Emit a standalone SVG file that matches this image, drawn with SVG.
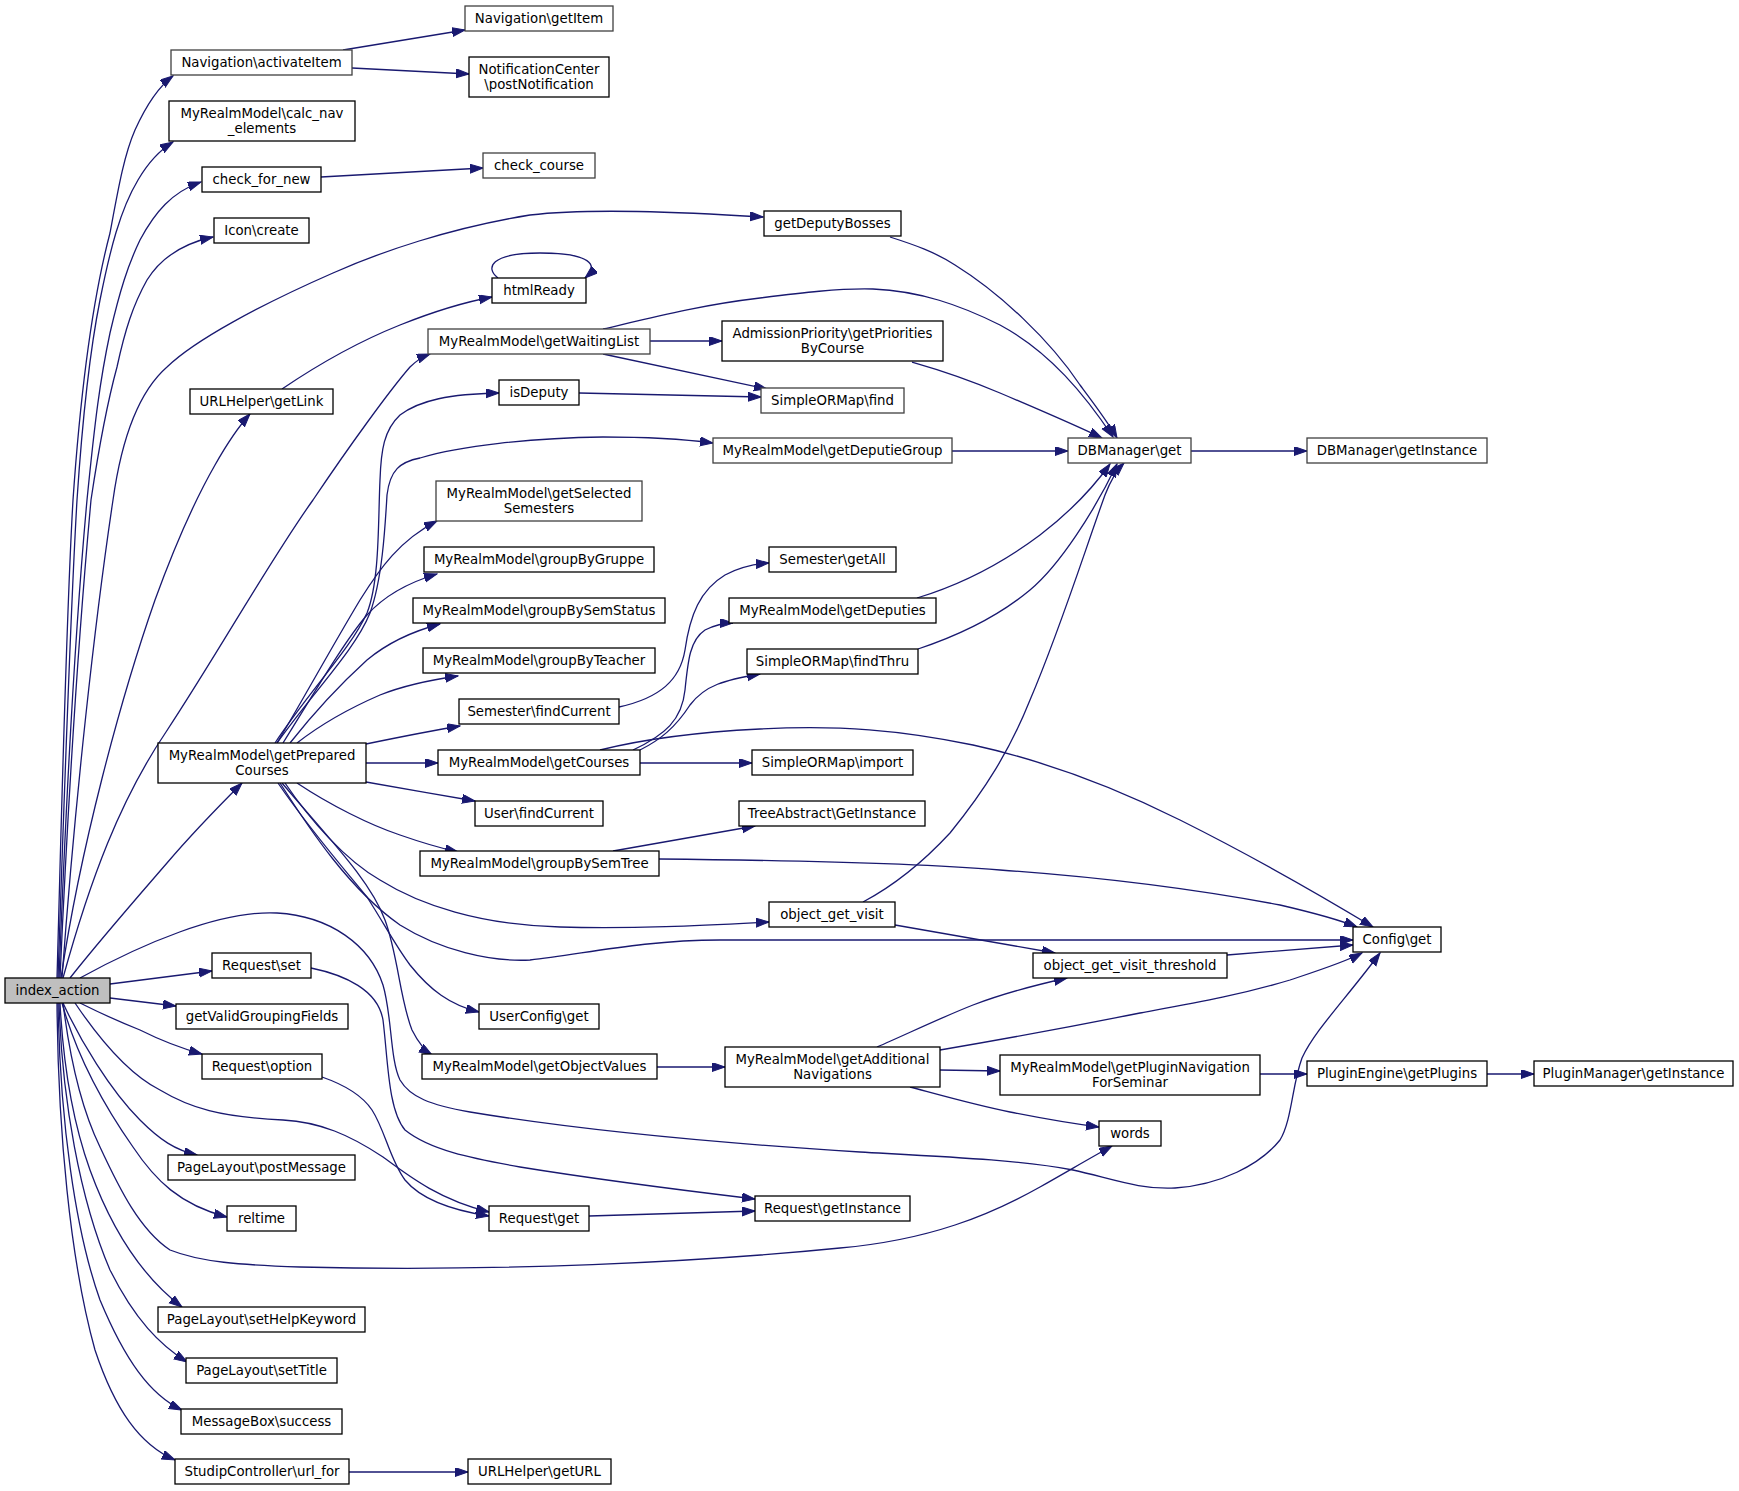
<svg xmlns="http://www.w3.org/2000/svg" width="1739" height="1491" viewBox="0 0 1739 1491">
<style>
.n rect{fill:#ffffff;stroke:#000000;stroke-width:1.3}
.g rect{stroke:#404040}
.root rect{fill:#bfbfbf;stroke:#000000}
text{font-family:"DejaVu Sans","Liberation Sans",sans-serif;font-size:13.3px;fill:#000000;text-anchor:middle}
.e path{fill:none;stroke:#191970;stroke-width:1.3;marker-end:url(#ah)}
</style>
<defs>
<marker id="ah" markerUnits="userSpaceOnUse" markerWidth="14" markerHeight="10" refX="13" refY="4.5" orient="auto">
<path d="M0,0 L13,4.5 L0,9 z" fill="#191970" stroke="#191970" stroke-width="1"/>
</marker>
</defs>
<rect width="1739" height="1491" fill="#ffffff"/>
<g id="connectors" class="e">
<path d="M57,978 C62,800 66,620 73,500 C82,370 95,290 110,233 C118,190 124,155 135,130 C145,108 158,87 173,76"/>
<path d="M58,978 C64,800 70,620 77,500 C83,410 90,350 100,300 C110,250 120,210 138,180 C148,163 160,150 173,142"/>
<path d="M59,978 C66,800 76,620 87,500 C95,420 100,380 110,333 C120,290 128,265 140,240 C155,212 172,192 201,182"/>
<path d="M60,978 C68,800 80,620 91,500 C100,440 108,400 117,367 C125,330 133,305 147,280 C162,256 185,243 213,237"/>
<path d="M62,978 C75,800 95,620 113,500 C120,450 135,395 167,367 C195,340 260,305 333,273 C380,252 450,228 530,215 C590,208 680,212 763,217"/>
<path d="M61,978 C80,850 120,700 155,600 C175,545 195,500 215,465 C228,442 240,425 250,414"/>
<path d="M63,978 C90,880 120,800 166,732 C220,650 270,560 313,500 C350,445 390,390 410,367 C415,362 422,357 430,354"/>
<path d="M70,978 C100,940 135,900 167,863 C190,836 220,805 242,783"/>
<path d="M110,984 L212,971"/>
<path d="M80,978 C140,945 220,910 277,913 C330,916 370,945 383,985 C392,1015 390,1060 400,1080 C410,1097 430,1105 470,1112 C560,1127 700,1142 860,1152 C950,1157 1020,1160 1073,1170 C1110,1178 1140,1190 1175,1188 C1220,1185 1260,1165 1280,1140 C1292,1120 1292,1085 1302,1058 C1315,1030 1345,1000 1380,953"/>
<path d="M311,968 C345,975 378,990 383,1020 C388,1060 388,1110 405,1130 C430,1150 470,1158 520,1167 C600,1180 680,1190 755,1199"/>
<path d="M110,998 L176,1006"/>
<path d="M80,1003 C100,1013 120,1022 140,1030 C160,1040 180,1048 202,1054"/>
<path d="M63,1003 C80,1040 110,1090 140,1120 C160,1140 175,1150 197,1155"/>
<path d="M62,1003 C75,1050 100,1100 133,1147 C155,1180 180,1205 227,1217"/>
<path d="M75,1003 C100,1040 130,1075 160,1090 C190,1108 220,1117 283,1120 C320,1122 350,1135 383,1157 C410,1177 440,1200 489,1212"/>
<path d="M322,1077 C345,1085 362,1095 372,1110 C385,1130 390,1160 405,1180 C420,1198 450,1210 489,1216"/>
<path d="M63,1003 C70,1060 82,1110 100,1147 C120,1190 140,1230 170,1250 C200,1262 240,1265 300,1267 C500,1272 700,1262 840,1248 C930,1240 990,1215 1040,1187 C1070,1170 1092,1157 1112,1146"/>
<path d="M60,1003 C63,1060 72,1120 90,1170 C110,1225 140,1275 182,1307"/>
<path d="M59,1003 C62,1100 80,1200 110,1270 C135,1320 160,1345 187,1362"/>
<path d="M58,1003 C60,1120 75,1230 100,1300 C125,1360 150,1395 182,1410"/>
<path d="M57,1003 C58,1130 70,1260 95,1350 C115,1410 140,1445 175,1460"/>
<path d="M349,1472 L468,1472"/>
<path d="M343,50 L465,30"/>
<path d="M352,68 L469,74"/>
<path d="M321,177 L483,168"/>
<path d="M282,389 C310,370 350,345 400,325 C430,313 460,303 492,297"/>
<path d="M498,278 C485,268 490,253 540,253 C590,253 600,265 585,278"/>
<path d="M890,237 C915,245 935,252 955,265 C1000,293 1050,340 1080,385 C1095,405 1108,422 1117,438"/>
<path d="M603,329 C650,318 700,305 760,298 C800,293 840,288 873,289 C920,291 960,305 1000,325 C1050,352 1085,395 1113,437"/>
<path d="M650,341 L722,341"/>
<path d="M603,354 L767,389"/>
<path d="M912,362 C940,370 970,380 1000,393 C1040,410 1075,425 1102,438"/>
<path d="M579,393 C650,395 710,396 761,397"/>
<path d="M952,451 L1068,451"/>
<path d="M1191,451 L1307,451"/>
<path d="M275,743 C310,690 350,650 367,613 C380,580 378,520 380,480 C381,450 384,430 400,415 C420,400 450,394 499,393"/>
<path d="M277,743 C315,690 355,650 370,613 C382,580 385,530 387,495 C390,470 400,462 420,458 C460,446 530,438 603,437 C650,437 690,440 713,443"/>
<path d="M277,743 C300,705 330,650 360,600 C380,568 400,540 437,521"/>
<path d="M283,743 C310,700 345,640 367,615 C385,595 410,582 437,574"/>
<path d="M290,743 C320,705 345,680 367,660 C385,645 410,632 440,624"/>
<path d="M297,743 C320,725 350,708 380,695 C405,685 430,680 458,676"/>
<path d="M366,744 C400,737 430,731 460,726"/>
<path d="M366,763 L438,763"/>
<path d="M366,782 C400,788 440,795 475,801"/>
<path d="M297,783 C330,805 370,825 400,835 C420,842 440,848 458,852"/>
<path d="M285,783 C310,820 345,860 380,880 C420,905 480,925 560,927 C640,929 710,925 769,922"/>
<path d="M280,783 C310,830 350,890 400,925 C440,950 490,962 530,960 C580,955 640,940 720,940 L1353,940"/>
<path d="M278,783 C310,830 345,870 367,897 C385,925 395,945 410,965 C430,990 450,1005 479,1012"/>
<path d="M282,783 C330,840 370,880 385,920 C398,955 400,1000 412,1030 C418,1042 424,1050 432,1055"/>
<path d="M619,707 C660,698 680,680 685,650 C690,615 700,590 725,575 C740,567 755,564 769,563"/>
<path d="M633,750 C665,735 682,720 685,690 C688,660 690,640 705,630 C715,625 725,623 733,623"/>
<path d="M640,750 C660,740 675,728 690,705 C705,685 725,680 760,674"/>
<path d="M600,750 C640,740 700,732 760,729 C840,725 900,730 973,745 C1050,762 1120,790 1180,820 C1250,855 1320,895 1373,927"/>
<path d="M640,763 L752,763"/>
<path d="M917,598 C960,585 1000,565 1040,535 C1070,512 1095,485 1110,464"/>
<path d="M918,649 C960,635 1000,615 1030,590 C1060,565 1095,510 1117,464"/>
<path d="M863,902 C895,885 925,860 950,833 C985,790 1010,750 1030,700 C1060,630 1085,550 1105,495 C1110,482 1115,472 1124,463"/>
<path d="M613,851 L755,826"/>
<path d="M659,859 C760,860 900,862 1000,870 C1100,877 1200,890 1280,905 C1310,912 1335,918 1357,927"/>
<path d="M895,925 L1055,953"/>
<path d="M1227,955 L1353,945"/>
<path d="M657,1067 L725,1067"/>
<path d="M877,1047 C905,1035 940,1018 973,1005 C1010,991 1040,984 1067,978"/>
<path d="M940,1050 C1010,1038 1080,1025 1140,1013 C1200,1002 1240,995 1290,980 C1320,970 1345,962 1362,953"/>
<path d="M940,1070 L1000,1071"/>
<path d="M910,1087 C940,1095 975,1105 1010,1112 C1050,1120 1075,1124 1099,1127"/>
<path d="M1260,1074 L1307,1074"/>
<path d="M1487,1074 L1534,1074"/>
<path d="M589,1216 L755,1211"/>
</g>
<g id="n_index_action" class="n root"><rect x="5" y="978" width="105" height="25"/><text x="57.5" y="995">index_action</text></g>
<g id="n_activateItem" class="n g"><rect x="171" y="50" width="181" height="25"/><text x="261.5" y="67">Navigation\activateItem</text></g>
<g id="n_calc_nav" class="n"><rect x="169" y="101" width="186" height="40"/><text x="262" y="118">MyRealmModel\calc_nav</text><text x="262" y="133">_elements</text></g>
<g id="n_check_for_new" class="n"><rect x="202" y="167" width="119" height="25"/><text x="261.5" y="184">check_for_new</text></g>
<g id="n_icon_create" class="n"><rect x="214" y="218" width="95" height="25"/><text x="261.5" y="235">Icon\create</text></g>
<g id="n_getLink" class="n"><rect x="190" y="389" width="143" height="25"/><text x="261.5" y="406">URLHelper\getLink</text></g>
<g id="n_getPreparedCourses" class="n"><rect x="158" y="743" width="208" height="40"/><text x="262" y="760">MyRealmModel\getPrepared</text><text x="262" y="775">Courses</text></g>
<g id="n_request_set" class="n"><rect x="212" y="953" width="99" height="25"/><text x="261.5" y="970">Request\set</text></g>
<g id="n_getValidGroupingFields" class="n"><rect x="176" y="1004" width="172" height="25"/><text x="262" y="1021">getValidGroupingFields</text></g>
<g id="n_request_option" class="n"><rect x="202" y="1054" width="120" height="25"/><text x="262" y="1071">Request\option</text></g>
<g id="n_postMessage" class="n"><rect x="168" y="1155" width="187" height="25"/><text x="261.5" y="1172">PageLayout\postMessage</text></g>
<g id="n_reltime" class="n"><rect x="227" y="1206" width="69" height="25"/><text x="261.5" y="1223">reltime</text></g>
<g id="n_setHelpKeyword" class="n"><rect x="158" y="1307" width="207" height="25"/><text x="261.5" y="1324">PageLayout\setHelpKeyword</text></g>
<g id="n_setTitle" class="n"><rect x="186" y="1358" width="151" height="25"/><text x="261.5" y="1375">PageLayout\setTitle</text></g>
<g id="n_success" class="n"><rect x="181" y="1409" width="161" height="25"/><text x="261.5" y="1426">MessageBox\success</text></g>
<g id="n_url_for" class="n"><rect x="175" y="1459" width="174" height="25"/><text x="262" y="1476">StudipController\url_for</text></g>
<g id="n_getItem" class="n g"><rect x="465" y="6" width="148" height="25"/><text x="539" y="23">Navigation\getItem</text></g>
<g id="n_postNotification" class="n"><rect x="469" y="57" width="140" height="40"/><text x="539" y="74">NotificationCenter</text><text x="539" y="89">\postNotification</text></g>
<g id="n_check_course" class="n g"><rect x="483" y="153" width="112" height="25"/><text x="539" y="170">check_course</text></g>
<g id="n_getDeputyBosses" class="n"><rect x="764" y="211" width="137" height="25"/><text x="832.5" y="228">getDeputyBosses</text></g>
<g id="n_htmlReady" class="n"><rect x="492" y="278" width="94" height="25"/><text x="539" y="295">htmlReady</text></g>
<g id="n_getWaitingList" class="n g"><rect x="428" y="329" width="222" height="25"/><text x="539" y="346">MyRealmModel\getWaitingList</text></g>
<g id="n_getPriorities" class="n"><rect x="722" y="321" width="221" height="40"/><text x="832.5" y="338">AdmissionPriority\getPriorities</text><text x="832.5" y="353">ByCourse</text></g>
<g id="n_isDeputy" class="n"><rect x="499" y="380" width="80" height="25"/><text x="539" y="397">isDeputy</text></g>
<g id="n_find" class="n g"><rect x="761" y="388" width="143" height="25"/><text x="832.5" y="405">SimpleORMap\find</text></g>
<g id="n_getDeputieGroup" class="n g"><rect x="713" y="438" width="239" height="25"/><text x="832.5" y="455">MyRealmModel\getDeputieGroup</text></g>
<g id="n_dbget" class="n g"><rect x="1068" y="438" width="123" height="25"/><text x="1129.5" y="455">DBManager\get</text></g>
<g id="n_dbgetInstance" class="n g"><rect x="1307" y="438" width="180" height="25"/><text x="1397" y="455">DBManager\getInstance</text></g>
<g id="n_getSelectedSemesters" class="n g"><rect x="436" y="481" width="206" height="40"/><text x="539" y="498">MyRealmModel\getSelected</text><text x="539" y="513">Semesters</text></g>
<g id="n_groupByGruppe" class="n"><rect x="424" y="547" width="230" height="25"/><text x="539" y="564">MyRealmModel\groupByGruppe</text></g>
<g id="n_groupBySemStatus" class="n"><rect x="413" y="598" width="252" height="25"/><text x="539" y="615">MyRealmModel\groupBySemStatus</text></g>
<g id="n_groupByTeacher" class="n"><rect x="423" y="648" width="232" height="25"/><text x="539" y="665">MyRealmModel\groupByTeacher</text></g>
<g id="n_semFindCurrent" class="n"><rect x="459" y="699" width="160" height="25"/><text x="539" y="716">Semester\findCurrent</text></g>
<g id="n_getCourses" class="n"><rect x="438" y="750" width="202" height="25"/><text x="539" y="767">MyRealmModel\getCourses</text></g>
<g id="n_userFindCurrent" class="n"><rect x="475" y="801" width="128" height="25"/><text x="539" y="818">User\findCurrent</text></g>
<g id="n_groupBySemTree" class="n"><rect x="420" y="851" width="239" height="25"/><text x="539.5" y="868">MyRealmModel\groupBySemTree</text></g>
<g id="n_semGetAll" class="n"><rect x="769" y="547" width="127" height="25"/><text x="832.5" y="564">Semester\getAll</text></g>
<g id="n_getDeputies" class="n"><rect x="729" y="598" width="207" height="25"/><text x="832.5" y="615">MyRealmModel\getDeputies</text></g>
<g id="n_findThru" class="n"><rect x="747" y="649" width="171" height="25"/><text x="832.5" y="666">SimpleORMap\findThru</text></g>
<g id="n_import" class="n"><rect x="752" y="750" width="161" height="25"/><text x="832.5" y="767">SimpleORMap\import</text></g>
<g id="n_treeGetInstance" class="n"><rect x="739" y="801" width="186" height="25"/><text x="832" y="818">TreeAbstract\GetInstance</text></g>
<g id="n_object_get_visit" class="n"><rect x="769" y="902" width="126" height="25"/><text x="832" y="919">object_get_visit</text></g>
<g id="n_threshold" class="n"><rect x="1033" y="953" width="194" height="25"/><text x="1130" y="970">object_get_visit_threshold</text></g>
<g id="n_configget" class="n"><rect x="1353" y="927" width="88" height="25"/><text x="1397" y="944">Config\get</text></g>
<g id="n_userconfigget" class="n"><rect x="479" y="1004" width="120" height="25"/><text x="539" y="1021">UserConfig\get</text></g>
<g id="n_getObjectValues" class="n"><rect x="422" y="1054" width="235" height="25"/><text x="539.5" y="1071">MyRealmModel\getObjectValues</text></g>
<g id="n_getAdditionalNavigations" class="n"><rect x="725" y="1047" width="215" height="40"/><text x="832.5" y="1064">MyRealmModel\getAdditional</text><text x="832.5" y="1079">Navigations</text></g>
<g id="n_request_get" class="n"><rect x="489" y="1206" width="100" height="25"/><text x="539" y="1223">Request\get</text></g>
<g id="n_request_getInstance" class="n"><rect x="755" y="1196" width="155" height="25"/><text x="832.5" y="1213">Request\getInstance</text></g>
<g id="n_getURL" class="n"><rect x="468" y="1459" width="143" height="25"/><text x="539.5" y="1476">URLHelper\getURL</text></g>
<g id="n_getPluginNavigation" class="n"><rect x="1000" y="1055" width="260" height="40"/><text x="1130" y="1072">MyRealmModel\getPluginNavigation</text><text x="1130" y="1087">ForSeminar</text></g>
<g id="n_words" class="n"><rect x="1099" y="1121" width="62" height="25"/><text x="1130" y="1138">words</text></g>
<g id="n_getPlugins" class="n"><rect x="1307" y="1061" width="180" height="25"/><text x="1397" y="1078">PluginEngine\getPlugins</text></g>
<g id="n_pluginManager" class="n"><rect x="1534" y="1061" width="199" height="25"/><text x="1633.5" y="1078">PluginManager\getInstance</text></g>
</svg>
